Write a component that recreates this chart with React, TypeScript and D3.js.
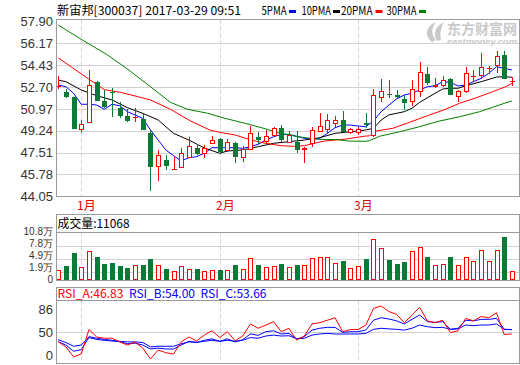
import React from 'react';
import * as d3 from 'd3';

const dates = [
  '2016-12-28','2016-12-29','2016-12-30',
  '2017-01-03','2017-01-04','2017-01-05','2017-01-06','2017-01-09','2017-01-10','2017-01-11','2017-01-12','2017-01-13',
  '2017-01-16','2017-01-17','2017-01-18','2017-01-19','2017-01-20','2017-01-23','2017-01-24','2017-01-25','2017-01-26',
  '2017-02-03','2017-02-06','2017-02-07','2017-02-08','2017-02-09','2017-02-10','2017-02-13','2017-02-14','2017-02-15',
  '2017-02-16','2017-02-17','2017-02-20','2017-02-21','2017-02-22','2017-02-23','2017-02-24','2017-02-27','2017-02-28',
  '2017-03-01','2017-03-02','2017-03-03','2017-03-06','2017-03-07','2017-03-08','2017-03-09','2017-03-10','2017-03-13',
  '2017-03-14','2017-03-15','2017-03-16','2017-03-17','2017-03-20','2017-03-21','2017-03-22','2017-03-23','2017-03-24',
  '2017-03-27','2017-03-28','2017-03-29'
];

const opens = [52.79,52.31,51.92,49.27,49.83,53.08,51.60,52.30,51.04,50.43,50.27,50.17,49.08,46.38,46.91,46.20,46.26,47.10,47.89,47.42,
  48.16,48.58,47.65,48.24,47.05,47.68,48.74,48.32,48.84,49.43,48.29,48.37,47.68,48.16,49.16,49.27,49.80,50.07,49.06,49.03,
  49.85,48.84,51.86,52.13,52.07,51.78,51.49,52.29,53.72,52.71,52.79,53.34,51.89,52.29,53.58,53.61,54.20,54.35,55.25,53.13];
const closes = [52.81,51.94,49.40,49.75,52.84,51.60,51.12,52.25,50.41,50.01,50.30,49.30,46.38,47.29,46.46,46.22,47.49,48.00,47.37,47.89,
  48.48,47.57,48.32,47.18,47.76,49.08,48.53,48.82,49.43,48.50,48.90,47.68,47.84,49.27,49.61,50.07,50.07,49.11,49.35,49.35,
  49.69,52.07,52.39,52.05,51.94,51.46,52.52,53.88,53.05,52.87,53.24,52.10,52.37,53.80,53.60,54.33,54.22,55.15,53.32,53.15];
const highs = [53.58,52.55,51.95,50.09,54.06,53.18,52.49,52.65,51.49,50.96,51.02,50.54,49.27,47.73,47.31,47.18,47.87,48.72,48.16,48.10,
  48.82,48.65,48.58,48.37,48.02,49.61,49.16,49.29,49.53,49.72,49.19,49.21,47.97,49.56,50.62,50.57,50.38,50.80,49.45,49.53,
  50.67,52.55,53.32,53.26,52.47,52.07,53.26,54.67,54.30,53.45,53.56,53.40,52.47,54.27,54.06,55.38,54.40,55.57,55.57,53.53];
const lows = [52.55,51.81,49.40,49.16,49.83,51.60,51.02,50.33,50.27,49.91,49.91,49.30,44.48,45.27,46.12,46.20,46.26,47.10,47.31,47.10,
  48.16,47.37,47.57,46.70,46.78,47.68,48.16,48.16,48.84,48.32,48.24,47.49,46.70,47.92,49.16,48.98,49.56,49.11,48.95,48.90,
  49.43,48.74,51.54,51.81,51.81,50.88,51.22,51.89,52.87,52.65,52.71,52.10,51.49,52.21,53.13,53.34,53.74,53.80,53.32,52.79];

const volumes = [24400,32000,61600,31200,65400,52500,36500,38800,32000,27400,35700,34200,47900,35700,25100,22100,33500,26600,25100,22100,
  24400,22800,24400,34200,26600,51700,34200,31200,33500,36500,31200,34200,34200,51700,54000,54000,38800,43400,28900,33500,
  47900,92800,72300,45700,36500,41100,65400,74600,52500,34200,36500,52500,34200,54000,44900,67700,44900,67700,98200,20500];

const ma5 = [52.87,52.73,52.21,51.34,51.34,51.28,50.94,51.34,51.22,50.75,50.49,50.22,49.30,48.50,47.71,47.26,46.84,47.10,47.18,47.45,
  47.89,47.89,47.89,47.89,47.84,47.97,48.16,48.50,48.76,48.95,48.95,48.80,48.64,48.56,48.64,49.03,49.48,49.69,49.69,49.61,
  49.56,50.01,50.75,51.28,51.76,52.07,52.21,52.47,52.73,52.81,53.13,53.08,52.79,52.87,53.13,53.40,53.80,54.32,54.19,54.06];

const ma10: [number, number][] = [[0,53.26],[1,53.13],[3,52.47],[5,52.02],[7,51.68],[9,51.07],[11,50.62],[13,50.09],[15,49.03],[17,48.50],
  [19,47.87],[21,47.45],[22,47.63],[24,47.71],[26,47.97],[28,48.24],[30,48.37],[32,48.50],[34,48.68],[36,49.03],[38,49.16],[39,49.22],
  [40,49.30],[41,49.43],[42,50.09],[43,50.49],[45,50.75],[46,51.02],[47,51.49],[49,52.21],[50,52.55],[51,52.61],[52,52.61],[53,52.81],
  [55,53.13],[57,53.50],[58,53.53],[59,53.48]];

const ma20: [number, number][] = [[0,55.03],[3,53.75],[6,52.50],[8.1,52.29],[10.3,51.95],[12,51.68],[14.6,50.94],[17.2,50.01],[19.7,49.30],
  [21,49.11],[23,48.90],[25.1,48.50],[26.9,48.24],[29,48.05],[30.7,48.00],[32,48.05],[33.3,48.24],[34.6,48.42],[37.2,48.56],[39.8,48.80],
  [40.5,48.84],[41.4,49.22],[43.5,49.43],[45.7,49.91],[47.9,50.41],[50.1,50.88],[52.2,51.42],[54.4,51.86],[56.5,52.34],[58.2,52.73],[59,53.00]];

const ma30: [number, number][] = [[0,57.63],[3,56.49],[6.3,55.30],[9,54.14],[12,52.73],[14.6,51.49],[16.8,50.94],[19.4,50.63],[21.7,50.22],
  [24.3,49.83],[26.9,49.40],[28.4,49.11],[31.2,48.76],[33.8,48.56],[36.4,48.53],[37.7,48.42],[39.9,48.40],[40.5,48.45],[41.8,48.80],
  [44.4,49.16],[47,49.56],[49.6,50.01],[52.2,50.35],[54.8,50.75],[56.5,51.10],[58.2,51.45],[59,51.60]];

const rsiA = [34.4,26,10,14.5,54,42,40,40,34,29,34,24,6.5,21,16.6,14.5,34,42,35.5,45,52,41,50.5,36,43.5,63,56,61,66.7,50.5,
  56,37,43.5,63,65,69,73,50.5,54,54,61,88,92,83,78.5,65,77,90,68,65,69,49,52,72,68,75,73,81,46,46.83];
const rsiB = [34.4,29,19,21.5,41,38,36.6,35.5,34.4,31,32,29,22.6,24,22.6,22.6,29,35,33,36.6,39,35,39,34,37.6,47,44.6,50.5,52,46.8,
  47.8,38.7,42.5,53,56,57.5,57.5,49.5,50.5,50.5,53,69,73,71,68,63,70.4,77.4,66.7,65.6,66.7,54.3,56,69,68,70.4,70.4,72,54.3,54.0];
const rsiC = [37.6,33,27,29,42.5,40,38,36.6,35,34,34,33,26,27,27,27,31,34,33.5,35,36.6,35,36.6,35,36.6,41,40,43.5,45,43.5,
  44,39.2,39.8,45,46.8,47.8,46.8,46.8,46.8,46.8,47.8,54.3,56,55,54.3,53,56,61.3,58.6,57,57.5,54.3,55,61.3,60.2,61.3,61.3,63,54.3,53.66];

const priceTicks = [57.90, 56.17, 54.43, 52.70, 50.97, 49.24, 47.51, 45.78, 44.05];
const volTicks = [108000, 78000, 49000, 19000, 0];
const volTickLabels = ['10.8万', '7.8万', '4.9万', '1.9万', '0'];
const rsiTicks = [86, 50, 0];
const monthNames = ['1月', '2月', '3月'];

const title = '新宙邦[300037] 2017-03-29 09:51';
const legendNames = ['5PMA', '10PMA', '20PMA', '30PMA'];
const legendColors = ['#0000ff', '#000000', '#ff0000', '#008000'];
const volTitle = '成交量:11068';
const rsiNames = ['RSI_A:46.83', 'RSI_B:54.00', 'RSI_C:53.66'];
const rsiColors = ['#ff0000', '#0000ff', '#0000ff'];

const RED = '#ff0000';
const GREEN = '#0a7a36';
const BORDER = '#9a9a9a';
const GRID = '#d2d2d2';
const CJK = "'Noto Sans CJK SC', 'DejaVu Sans', sans-serif";
const NUM = "'Liberation Sans', Arial, sans-serif";

export default function App() {
  const L = 56.5, R = 519.5;
  const mainTop = 19.5, mainBot = 196.5;
  const volTop = 214.5, volSep = 232.5, volBot = 280.5;
  const rsiTop = 287.5, rsiSep = 300.5, rsiBot = 363.5;

  const x = d3.scaleLinear().domain([0, dates.length - 1]).range([58.2, 511.9]);
  const yP = d3.scaleLinear().domain([44.05, 57.90]).range([196.1, 21.6]);
  const yV = d3.scaleLinear().domain([0, 108000]).range([280.5, 232.5]);
  const yR = d3.scaleLinear().domain([0, 100]).range([363, 301]);

  const px = (i: number) => Math.round(x(i));
  const monthStarts: number[] = [];
  dates.forEach((d, i) => {
    if (i > 0 && d.slice(5, 7) !== dates[i - 1].slice(5, 7)) monthStarts.push(i);
  });

  const linePts = d3.line<[number, number]>().x(d => x(d[0])).y(d => yP(d[1]));
  const ma5Path = linePts(ma5.map((v, i) => [i, v] as [number, number])) || '';
  const maPaths = [ma5Path, linePts(ma10) || '', linePts(ma20) || '', linePts(ma30) || ''];

  const rsiLine = d3.line<number>().x((_, i) => x(i)).y(d => yR(d));

  // volume tick label positions, kept at least 12px apart from the one below
  const volLabelY: number[] = new Array(volTicks.length);
  for (let k = volTicks.length - 1; k >= 0; k--) {
    const want = Math.min(yV(volTicks[k]) - 1, 279.5);
    volLabelY[k] = k === volTicks.length - 1 ? want : Math.min(want, volLabelY[k + 1] - 12);
  }

  const candles = dates.map((d, i) => {
    const o = opens[i], c = closes[i], h = highs[i], l = lows[i];
    const up = c >= o;
    const col = up ? RED : GREEN;
    const cx = px(i);
    const top = Math.round(yP(Math.max(o, c)));
    let bot = Math.round(yP(Math.min(o, c)));
    if (bot - top < 1) bot = top + 1;
    const yh = Math.round(yP(h)), yl = Math.round(yP(l));
    return (
      <g key={d}>
        {yh < top && <line x1={cx + 0.5} x2={cx + 0.5} y1={yh} y2={top} stroke={col} />}
        {yl > bot && <line x1={cx + 0.5} x2={cx + 0.5} y1={bot} y2={yl} stroke={col} />}
        {bot - top <= 1 ? (
          <line x1={cx - 2} x2={cx + 3} y1={top + 0.5} y2={top + 0.5} stroke={col} />
        ) : (
          <rect x={cx - 2 + 0.5} y={top + 0.5} width={4} height={bot - top - 1}
            fill={up ? '#fff' : col} stroke={col} />
        )}
      </g>
    );
  });

  const volBars = dates.map((d, i) => {
    const up = closes[i] >= opens[i];
    const col = up ? RED : GREEN;
    const cx = px(i);
    const top = Math.round(yV(volumes[i]));
    return (
      <rect key={d} x={cx - 2 + 0.5} y={top + 0.5} width={4} height={Math.max(0, 280 - top - 1)}
        fill={up ? '#fff' : col} stroke={col} />
    );
  });

  const legendX = [261.5, 301.5, 341, 386.5];
  const legendW = [25, 29.5, 31.5, 30];
  const dashX = [289, 333, 375.5, 419];

  return (
    <svg width={520} height={365} style={{ position: 'absolute', left: 0, top: 0, background: '#fff' }}>
      <rect x={0} y={0} width={520} height={365} fill="#fff" />
      {/* watermark */}
      <g fill="#c9c9c9">
        <path d="M432,42 C424,36 426,26 436,22 C431,28 431,35 436,40 Z" />
        <path d="M437,41 C433,34 435,26 444,22 C440,29 440,35 441,40 Z" />
        <text x={447} y={34} fontFamily={CJK} fontSize={14} fontWeight="bold" textLength={70} lengthAdjust="spacingAndGlyphs">东方财富网</text>
        <text x={447} y={44} fontFamily={NUM} fontSize={8} fontWeight="bold" fontStyle="italic" textLength={70} lengthAdjust="spacingAndGlyphs">eastmoney.com</text>
      </g>

      {/* header */}
      <text x={57} y={14.5} fontFamily={CJK} fontSize={12} fill="#000" textLength={184} lengthAdjust="spacingAndGlyphs">{title}</text>
      {legendNames.map((n, k) => (
        <g key={n}>
          <text x={legendX[k]} y={14.5} fontFamily={CJK} fontSize={12} fill="#000" textLength={legendW[k]} lengthAdjust="spacingAndGlyphs">{n}</text>
          <line x1={dashX[k]} x2={dashX[k] + 7} y1={11.5} y2={11.5} stroke={legendColors[k]} strokeWidth={3} />
        </g>
      ))}

      {/* main panel grid */}
      {priceTicks.slice(1, -1).map(t => (
        <line key={t} x1={L} x2={R} y1={Math.round(yP(t)) + 0.5} y2={Math.round(yP(t)) + 0.5} stroke={GRID} />
      ))}
      {monthStarts.map(i => (
        <line key={'m' + i} x1={px(i) + 0.5} x2={px(i) + 0.5} y1={mainTop} y2={mainBot} stroke={GRID} strokeDasharray="4,3" />
      ))}
      {priceTicks.map(t => (
        <text key={'pt' + t} x={53} y={yP(t)} dy="0.36em" textAnchor="end" fontFamily={NUM} fontSize={13} fill="#333">{t.toFixed(2)}</text>
      ))}

      <g clipPath="url(#mainClip)">
        <clipPath id="mainClip"><rect x={L} y={mainTop} width={R - L} height={mainBot - mainTop} /></clipPath>
        {maPaths.map((p, k) => (
          <path key={'ma' + k} d={p} fill="none" stroke={legendColors[k]} strokeWidth={1} />
        ))}
        {candles}
      </g>
      <rect x={L} y={mainTop} width={R - L} height={mainBot - mainTop} fill="none" stroke={BORDER} />

      {/* month labels */}
      {monthStarts.map((i, k) => (
        <text key={'ml' + i} x={px(i) - 4} y={210} fontFamily={CJK} fontSize={12} fill="#e00000">{monthNames[k]}</text>
      ))}

      {/* volume panel */}
      {volTicks.slice(1, -1).map(t => (
        <line key={'vg' + t} x1={L} x2={R} y1={Math.round(yV(t)) + 0.5} y2={Math.round(yV(t)) + 0.5} stroke={GRID} />
      ))}
      {monthStarts.map(i => (
        <line key={'vm' + i} x1={px(i) + 0.5} x2={px(i) + 0.5} y1={volSep} y2={volBot} stroke={GRID} strokeDasharray="4,3" />
      ))}
      {volBars}
      <rect x={L} y={volTop} width={R - L} height={volBot - volTop} fill="none" stroke={BORDER} />
      <line x1={L} x2={R} y1={volSep} y2={volSep} stroke={BORDER} />
      <text x={57.5} y={228} fontFamily={CJK} fontSize={12} fill="#000" textLength={72} lengthAdjust="spacingAndGlyphs">{volTitle}</text>
      {volTicks.map((t, k) => (
        <text key={'vt' + t} x={53} y={volLabelY[k]} dy="0.34em" textAnchor="end" fontFamily={NUM} fontSize={10} fill="#333">{volTickLabels[k]}</text>
      ))}

      {/* RSI panel */}
      <line x1={L} x2={R} y1={Math.round(yR(50)) + 0.5} y2={Math.round(yR(50)) + 0.5} stroke={GRID} />
      {monthStarts.map(i => (
        <line key={'rm' + i} x1={px(i) + 0.5} x2={px(i) + 0.5} y1={rsiSep} y2={rsiBot} stroke={GRID} strokeDasharray="4,3" />
      ))}
      <g clipPath="url(#rsiClip)">
        <clipPath id="rsiClip"><rect x={L} y={rsiSep} width={R - L} height={rsiBot - rsiSep} /></clipPath>
        <path d={rsiLine(rsiC) || ''} fill="none" stroke="#0000ff" />
        <path d={rsiLine(rsiB) || ''} fill="none" stroke="#0000ff" />
        <path d={rsiLine(rsiA) || ''} fill="none" stroke="#ff0000" />
      </g>
      <rect x={L} y={rsiTop} width={R - L} height={rsiBot - rsiTop} fill="none" stroke={BORDER} />
      <line x1={L} x2={R} y1={rsiSep} y2={rsiSep} stroke={BORDER} />
      {rsiNames.map((n, k) => (
        <text key={n} x={57.5 + k * 71.5} y={298} fontFamily={CJK} fontSize={12} fill={rsiColors[k]} textLength={66} lengthAdjust="spacingAndGlyphs">{n}</text>
      ))}
      {rsiTicks.map(t => (
        <text key={'rt' + t} x={53} y={Math.min(yR(t), 355)} dy="0.36em" textAnchor="end" fontFamily={NUM} fontSize={13} fill="#333">{String(t)}</text>
      ))}
    </svg>
  );
}
